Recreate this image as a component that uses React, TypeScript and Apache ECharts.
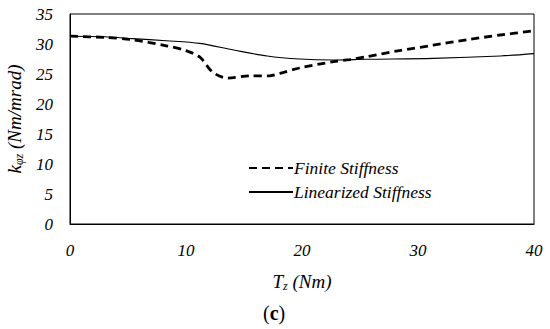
import React, { useEffect, useRef } from "react";
import * as echarts from "echarts";

const finiteT = [0, 3, 5.4, 8.3, 10, 11.2, 12.3, 13.6, 15.5, 17.2, 18.1, 19.8, 22.7, 24.1, 25.6, 28.4, 31.3, 34.2, 37.1, 40];
const finiteK = [31.3, 31.1, 30.7, 29.7, 28.9, 27.8, 25.3, 24.3, 24.7, 24.7, 25.1, 26.0, 27.05, 27.4, 27.9, 28.9, 29.8, 30.7, 31.5, 32.2];

const linT = [0, 3, 5.4, 8.3, 11.2, 14.1, 17.0, 19.8, 22.7, 25.6, 31.3, 37.1, 40];
const linK = [31.3, 31.2, 30.9, 30.55, 30.1, 29.0, 28.0, 27.5, 27.33, 27.45, 27.6, 28.0, 28.4];

const xTicks = [0, 10, 20, 30, 40];
const yTicks = [0, 5, 10, 15, 20, 25, 30, 35];

const FONT = "Liberation Serif";

export default function App() {
  const ref = useRef<HTMLDivElement>(null);
  useEffect(() => {
    if (!ref.current) return;
    const chart = echarts.init(ref.current, undefined, { renderer: "svg" });
    const pair = (xs: number[], ys: number[]) => xs.map((x, i) => [x, ys[i]]);
    const nameRich = {
      a: { fontFamily: FONT, fontStyle: "italic", fontSize: 19, color: "#000", lineHeight: 22 },
      s: { fontFamily: FONT, fontStyle: "italic", fontSize: 12, color: "#000", lineHeight: 22, padding: [9, 0, 0, 0] },
    };
    chart.setOption({
      animation: false,
      backgroundColor: "#fff",
      textStyle: { fontFamily: FONT },
      grid: {
        left: 70,
        right: 16,
        top: 14,
        bottom: 105,
        show: true,
        borderColor: "#000",
        borderWidth: 1,
        outerBoundsMode: "none",
        containLabel: false,
      },
      legend: {
        orient: "vertical",
        left: 243,
        top: 154,
        itemWidth: 44,
        itemHeight: 12,
        itemGap: 6,
        itemStyle: { opacity: 0 },
        textStyle: { fontFamily: FONT, fontStyle: "italic", fontSize: 17.5, color: "#000", padding: [0, 0, 0, -4] },
        data: ["Finite Stiffness", "Linearized Stiffness"],
      },
      xAxis: {
        type: "value",
        min: 0,
        max: 40,
        interval: 10,
        name: "{a|T}{s|z}{a| (Nm)}",
        nameLocation: "middle",
        nameGap: 46,
        nameTextStyle: { fontFamily: FONT, rich: nameRich },
        axisLine: { show: true, lineStyle: { color: "#000", width: 1 } },
        axisTick: { show: false },
        splitLine: { show: false },
        axisLabel: {
          margin: 18,
          fontFamily: FONT,
          fontStyle: "italic",
          fontSize: 17,
          color: "#000",
          formatter: (v: number) => (xTicks.includes(v) ? String(v) : ""),
        },
      },
      yAxis: {
        type: "value",
        min: 0,
        max: 35,
        interval: 5,
        name: "{a|k}{s|φz}{a| (Nm/mrad)}",
        nameLocation: "middle",
        nameRotate: 90,
        nameGap: 45,
        nameTextStyle: { fontFamily: FONT, rich: nameRich },
        axisLine: { show: true, lineStyle: { color: "#000", width: 1 } },
        axisTick: { show: false },
        splitLine: { show: false },
        axisLabel: {
          margin: 17,
          fontFamily: FONT,
          fontStyle: "italic",
          fontSize: 17,
          color: "#000",
          formatter: (v: number) => (yTicks.includes(v) ? String(v) : ""),
        },
      },
      graphic: [
        {
          type: "text",
          left: 263,
          top: 303,
          style: {
            text: "({b|c})",
            rich: { b: { fontFamily: FONT, fontSize: 20, fontWeight: "bold", fill: "#000" } },
            font: `20px ${FONT}`,
            fill: "#000",
          },
        },
      ],
      series: [
        {
          name: "Finite Stiffness",
          type: "line",
          data: pair(finiteT, finiteK),
          smooth: 0.3,
          symbol: "none",
          lineStyle: { color: "#000", width: 2.8, type: [8, 5] },
          itemStyle: { color: "#000" },
        },
        {
          name: "Linearized Stiffness",
          type: "line",
          data: pair(linT, linK),
          smooth: 0.3,
          symbol: "none",
          lineStyle: { color: "#000", width: 1.1 },
          itemStyle: { color: "#000" },
        },
      ],
    });
    return () => chart.dispose();
  }, []);
  return <div ref={ref} style={{ width: 550, height: 329, position: "absolute", left: 0, top: 0 }} />;
}
